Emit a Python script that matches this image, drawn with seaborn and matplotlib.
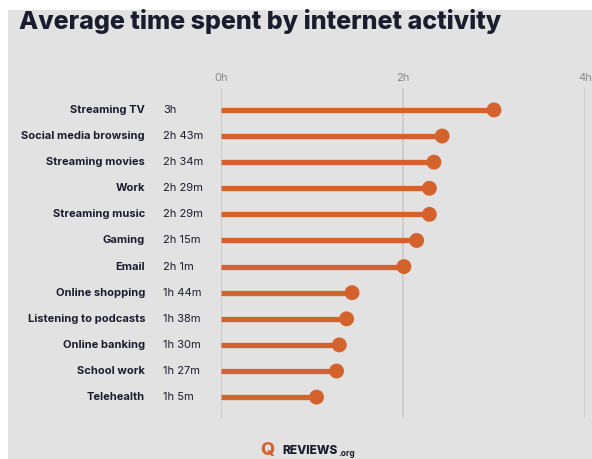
import matplotlib
matplotlib.use("Agg")
import matplotlib.pyplot as plt
import seaborn as sns
import pandas as pd
from matplotlib.patches import Rectangle

activities = ["Streaming TV", "Social media browsing", "Streaming movies", "Work",
              "Streaming music", "Gaming", "Email", "Online shopping",
              "Listening to podcasts", "Online banking", "School work", "Telehealth"]
value_labels = ["3h", "2h 43m", "2h 34m", "2h 29m", "2h 29m", "2h 15m", "2h 1m",
                "1h 44m", "1h 38m", "1h 30m", "1h 27m", "1h 5m"]
# plotted positions (hours, as drawn in the source chart)
hours = [3.0, 2.43, 2.34, 2.29, 2.29, 2.15, 2.01, 1.44, 1.38, 1.30, 1.27, 1.05]
tick_vals = [0, 2, 4]
tick_labels = ["0h", "2h", "4h"]

df = pd.DataFrame({"activity": activities, "hours": hours, "label": value_labels})

sns.set_theme(style="white")
plt.rcParams["font.family"] = ["Inter", "DejaVu Sans"]

W, H = 592, 459
fig = plt.figure(figsize=(W / 100, H / 100), dpi=100)
fig.patch.set_facecolor("white")
BG = "#e2e2e2"
fig.patches.append(Rectangle((8 / W, 0), 1 - 8 / W, 1 - 10 / H, transform=fig.transFigure,
                             facecolor=BG, edgecolor="none", zorder=-10))

x0, x1 = 221, 585
ytop, ybot = 88, 418
ax = fig.add_axes([x0 / W, 1 - ybot / H, (x1 - x0) / W, (ybot - ytop) / H])
ax.set_facecolor("none")

ORANGE = "#d4622d"
NAVY = "#1b1c2e"

ax.hlines(y=df["activity"], xmin=0, xmax=df["hours"], color=ORANGE, lw=3.8, zorder=3)
sns.scatterplot(data=df, x="hours", y="activity", ax=ax, color=ORANGE, s=115,
                edgecolor="none", zorder=4, legend=False)

ax.set_xlim(0, 4)
ax.set_ylim(len(activities) - 1 + 0.8, -0.84)
ax.set_xticks(tick_vals)
ax.set_xticklabels(tick_labels)
ax.xaxis.tick_top()
ax.tick_params(axis="x", length=0, pad=3.5, labelsize=8, labelcolor="#8a8a8a")
ax.set_yticks([])
ax.set_xlabel("")
ax.set_ylabel("")
for s in ax.spines.values():
    s.set_visible(False)
ax.grid(axis="x", color="#c9c9c9", lw=1.2)
ax.set_axisbelow(True)

ytrans = ax.get_yaxis_transform()
lab_x = (145 - x0) / (x1 - x0)
val_x = (163 - x0) / (x1 - x0)
for i, (a, v) in enumerate(zip(activities, value_labels)):
    ax.text(lab_x, i, a, transform=ytrans, ha="right", va="center", fontsize=8,
            fontweight="bold", color=NAVY)
    ax.text(val_x, i, v, transform=ytrans, ha="left", va="center", fontsize=8,
            color=NAVY)

fig.text(19 / W, 1 - 22 / H, "Average time spent by internet activity", ha="left",
         va="center", fontsize=18, fontweight="heavy", color=NAVY)

# logo
fig.text(267 / W, 1 - 451 / H, "Q", ha="center", va="center", fontsize=13,
         color=ORANGE, fontweight="heavy")
fig.text(282 / W, 1 - 451 / H, "REVIEWS", ha="left", va="center", fontsize=8.6,
         color=NAVY, fontweight="heavy")
fig.text(338 / W, 1 - 453 / H, ".org", ha="left", va="center", fontsize=6,
         color=NAVY, fontweight="bold")

fig.savefig("out.png", dpi=100, facecolor=fig.get_facecolor())
